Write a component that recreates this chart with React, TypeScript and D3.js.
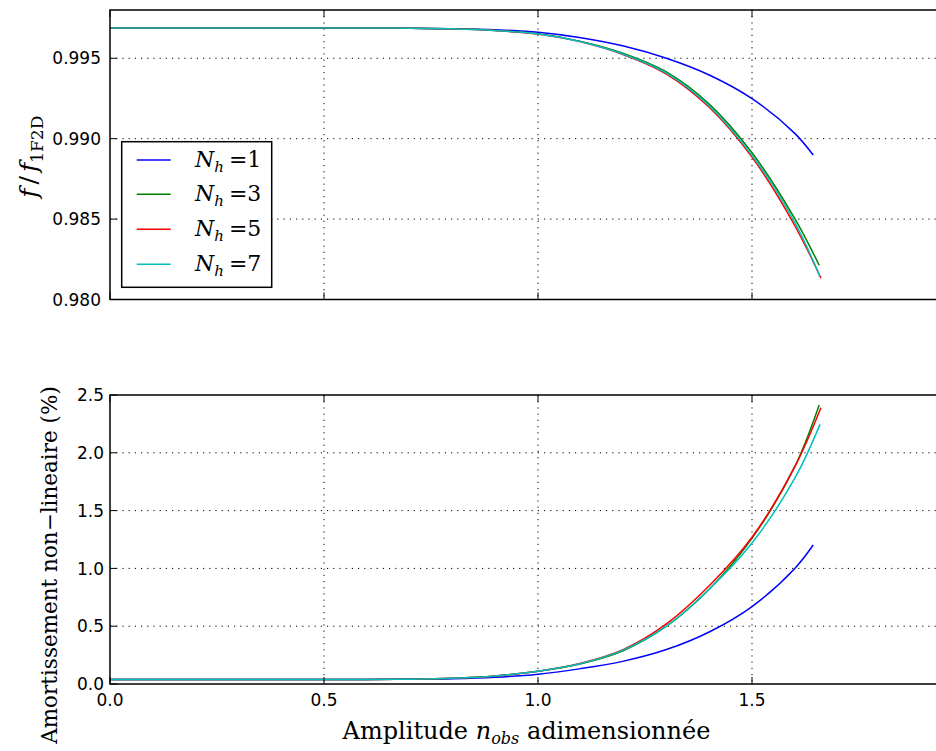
import React from "react";
import * as d3 from "d3";

// ---------- data ----------
const seriesLabels = ["1", "3", "5", "7"];
const seriesColors = ["#0000ff", "#008000", "#ff0000", "#00bfbf"];

const xTicks = [0.0, 0.5, 1.0, 1.5];
const topYTicks = [0.98, 0.985, 0.99, 0.995];
const botYTicks = [0.0, 0.5, 1.0, 1.5, 2.0, 2.5];

// top panel: f / f_1F2D
const xNh1 = [0, 0.3, 0.6, 0.7, 0.8, 0.9, 1.0, 1.1, 1.2, 1.3, 1.4, 1.5, 1.6, 1.643];
const fNh1 = [0.99688, 0.99688, 0.99688, 0.99687, 0.99684, 0.99677, 0.99662, 0.99628, 0.99576, 0.995, 0.99396, 0.99249, 0.99033, 0.98898];
const xNh3 = [0, 0.3, 0.6, 0.7, 0.8, 0.9, 1.0, 1.1, 1.2, 1.3, 1.4, 1.5, 1.6, 1.657];
const fNh3 = [0.99688, 0.99688, 0.99688, 0.99687, 0.99683, 0.99673, 0.99652, 0.99605, 0.9953, 0.99415, 0.99215, 0.98912, 0.98503, 0.98213];
const xNh5 = [0, 0.3, 0.6, 0.7, 0.8, 0.9, 1.0, 1.1, 1.2, 1.3, 1.4, 1.5, 1.6, 1.661];
const fNh5 = [0.99688, 0.99688, 0.99688, 0.99687, 0.99683, 0.99672, 0.9965, 0.99602, 0.99522, 0.99402, 0.99195, 0.98885, 0.9846, 0.98133];
const xNh7 = [0, 0.3, 0.6, 0.7, 0.8, 0.9, 1.0, 1.1, 1.2, 1.3, 1.4, 1.5, 1.6, 1.659];
const fNh7 = [0.99688, 0.99688, 0.99688, 0.99687, 0.99683, 0.99672, 0.99651, 0.99603, 0.99525, 0.99407, 0.99203, 0.98896, 0.98478, 0.98141];

// bottom panel: amortissement (%)
const aNh1 = [0.04, 0.04, 0.04, 0.041, 0.045, 0.058, 0.085, 0.133, 0.198, 0.298, 0.45, 0.67, 1.0, 1.202];
const aNh3 = [0.04, 0.04, 0.04, 0.042, 0.05, 0.07, 0.11, 0.175, 0.29, 0.5, 0.82, 1.26, 1.88, 2.413];
const aNh5 = [0.04, 0.04, 0.04, 0.042, 0.05, 0.07, 0.11, 0.18, 0.3, 0.52, 0.85, 1.27, 1.88, 2.39];
const aNh7 = [0.04, 0.04, 0.04, 0.042, 0.05, 0.07, 0.11, 0.177, 0.295, 0.5, 0.82, 1.22, 1.78, 2.246];

const topSeries = [
  { x: xNh1, y: fNh1 },
  { x: xNh3, y: fNh3 },
  { x: xNh5, y: fNh5 },
  { x: xNh7, y: fNh7 },
];
const botSeries = [
  { x: xNh1, y: aNh1 },
  { x: xNh3, y: aNh3 },
  { x: xNh5, y: aNh5 },
  { x: xNh7, y: aNh7 },
];

// ---------- layout ----------
const W = 936;
const H = 751;
const left = 110;
const right = 966;
const topP = { t: 10, b: 299.5 };
const botP = { t: 395, b: 684 };

const x = d3.scaleLinear().domain([0, 2.0]).range([left, right]);
const yTop = d3.scaleLinear().domain([0.98, 0.998]).range([topP.b, topP.t]);
const yBot = d3.scaleLinear().domain([0, 2.5]).range([botP.b, botP.t]);

const tickStyle = { fontFamily: "DejaVu Sans", fontSize: "17px" };
const serifStyle = { fontFamily: "DejaVu Serif", fontSize: "22px" };
const dash = "1.2,5";
const tickLen = 7;

function Panel({ y, t, b, series, yTicks, yFmt, labelEnd, showX }: any) {
  const line = (s: any) =>
    d3
      .line<number>()
      .x((_, i) => x(s.x[i]))
      .y((v) => y(v))
      .curve(d3.curveCatmullRom.alpha(0.5))(s.y) as string;
  return (
    <g>
      {xTicks
        .filter((v) => v > 0)
        .map((v) => (
          <line key={"gx" + v} x1={x(v)} x2={x(v)} y1={t} y2={b} stroke="#000" strokeWidth={1} strokeDasharray={dash} />
        ))}
      {yTicks
        .filter((v: number) => Math.abs(y(v) - b) > 1 && Math.abs(y(v) - t) > 1)
        .map((v: number) => (
          <line key={"gy" + v} x1={left} x2={right} y1={y(v)} y2={y(v)} stroke="#000" strokeWidth={1} strokeDasharray={dash} />
        ))}
      {series.map((s: any, i: number) => (
        <path key={i} d={line(s)} fill="none" stroke={seriesColors[i]} strokeWidth={1.5} />
      ))}
      {xTicks.map((v) => (
        <g key={"tx" + v}>
          <line x1={x(v)} x2={x(v)} y1={b} y2={b - tickLen} stroke="#000" strokeWidth={1} />
          <line x1={x(v)} x2={x(v)} y1={t} y2={t + tickLen} stroke="#000" strokeWidth={1} />
        </g>
      ))}
      {yTicks.map((v: number) => (
        <g key={"ty" + v}>
          <line x1={left} x2={left + tickLen} y1={y(v)} y2={y(v)} stroke="#000" strokeWidth={1} />
          <text x={labelEnd} y={y(v)} dy="0.36em" textAnchor="end" style={tickStyle} fill="#000">
            {yFmt(v)}
          </text>
        </g>
      ))}
      {showX &&
        xTicks.map((v) => (
          <text key={"lx" + v} x={x(v)} y={b + 22} textAnchor="middle" style={tickStyle} fill="#000">
            {d3.format(".1f")(v)}
          </text>
        ))}
      <rect x={left} y={t} width={right - left} height={b - t} fill="none" stroke="#000" strokeWidth={1.5} />
    </g>
  );
}

export default function App() {
  const legendX = 121.7;
  const legendY = 141.7;
  const rowY = [160, 194.3, 229.3, 264.3];
  return (
    <svg width={W} height={H} style={{ position: "absolute", left: 0, top: 0, background: "#fff" }}>
      <rect x={0} y={0} width={W} height={H} fill="#fff" />
      <Panel y={yTop} t={topP.t} b={topP.b} series={topSeries} yTicks={topYTicks} yFmt={d3.format(".3f")} labelEnd={101} showX={false} />
      <Panel y={yBot} t={botP.t} b={botP.b} series={botSeries} yTicks={botYTicks} yFmt={d3.format(".1f")} labelEnd={104} showX={true} />

      <rect x={legendX} y={legendY} width={150} height={145.6} fill="#fff" stroke="#000" strokeWidth={1.5} />
      {seriesLabels.map((lab, i) => (
        <g key={lab}>
          <line x1={136.7} x2={170.7} y1={rowY[i]} y2={rowY[i]} stroke={seriesColors[i]} strokeWidth={1.5} />
          <text x={195} y={rowY[i] + 7} style={{ ...serifStyle, fontSize: "22px" }} fill="#000">
            <tspan fontStyle="italic">N</tspan>
            <tspan fontStyle="italic" style={{ fontSize: "15px" }} dy={5}>h</tspan>
            <tspan dy={-5} dx={5}>=</tspan>
            <tspan>{lab}</tspan>
          </text>
        </g>
      ))}

      <text transform={`translate(37, ${(topP.t + topP.b) / 2 + 2}) rotate(-90)`} textAnchor="middle" style={{ ...serifStyle, fontSize: "25px" }} fill="#000">
        <tspan fontStyle="italic">f</tspan>
        <tspan dx={4}>/</tspan>
        <tspan dx={4} fontStyle="italic">f</tspan>
        <tspan style={{ fontSize: "17px" }} dy={6}>1F2D</tspan>
      </text>
      <text transform={`translate(57, 565) rotate(-90)`} textAnchor="middle" style={{ ...serifStyle, fontSize: "21.5px" }} fill="#000">
        Amortissement non−lineaire (%)
      </text>

      <text x={(335 + 718) / 2} y={739} textAnchor="middle" style={{ ...serifStyle, fontSize: "24px" }} fill="#000">
        <tspan>Amplitude </tspan>
        <tspan fontStyle="italic">n</tspan>
        <tspan fontStyle="italic" style={{ fontSize: "16px" }} dy={5}>obs</tspan>
        <tspan dy={-5}> adimensionnée</tspan>
      </text>
    </svg>
  );
}
